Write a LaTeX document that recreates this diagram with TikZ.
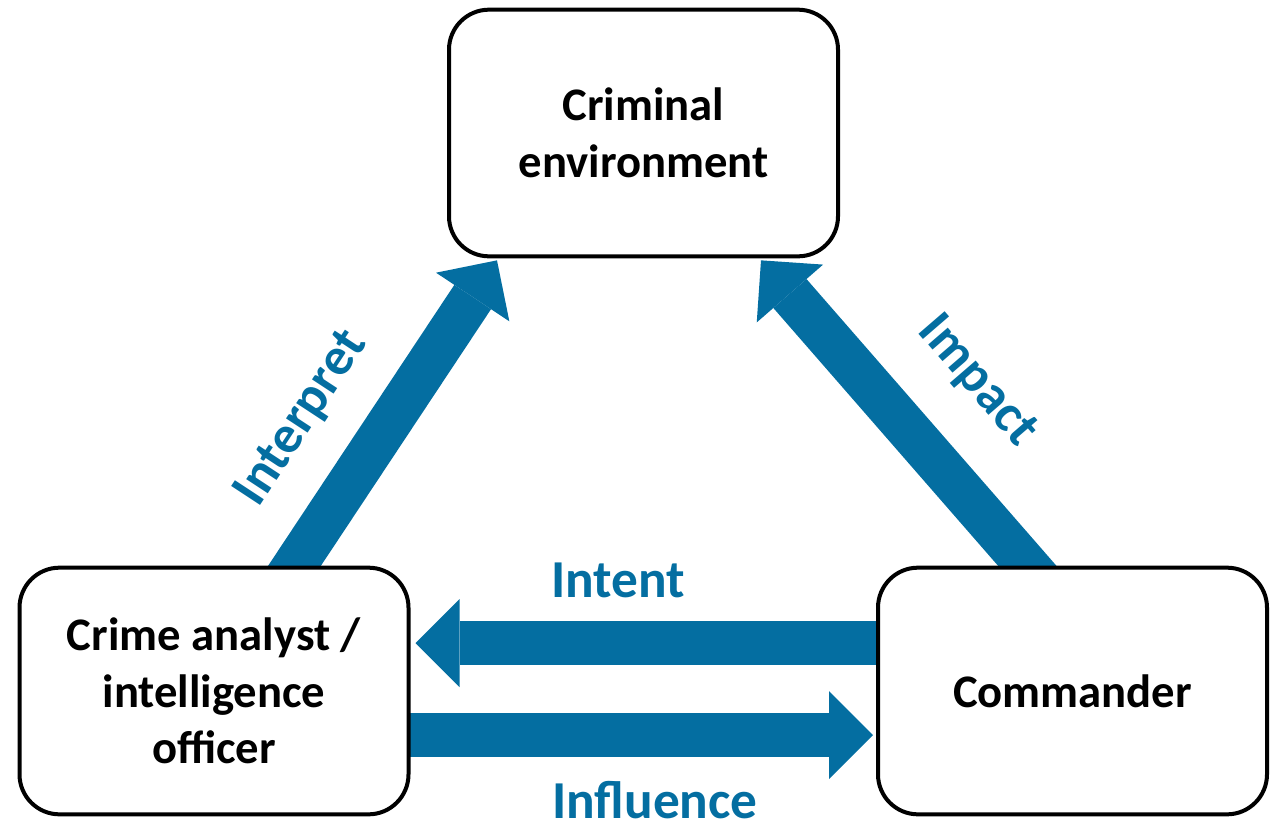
\documentclass[tikz,border=0pt]{standalone}
\usepackage{fontspec}
\setmainfont{Carlito}
\usetikzlibrary{arrows.meta,backgrounds,calc}
\definecolor{arrowblue}{RGB}{4,110,161}
\begin{document}
\begin{tikzpicture}[x=0.75pt,y=-0.75pt,
  box/.style={draw=black,line width=3pt,rounded corners=30pt,fill=white,
    minimum width=291.75pt,minimum height=185pt,align=center,
    font=\bfseries\fontsize{35}{42.5}\selectfont,inner sep=0pt},
  bigarrow/.style={draw=arrowblue,line width=33pt,
    -{Triangle[length=33pt,width=66pt,line width=0pt]}},
  lbl/.style={text=arrowblue,font=\bfseries\fontsize{40}{48}\selectfont,
    inner sep=0pt,anchor=base}]
\useasboundingbox (0,0) rectangle (1279,822);

\node[box] (crim) at (643.5,133) {Criminal\\environment};
\node[box] (ana) at (214,691) {Crime analyst /\\intelligence\\officer};
\node[box] (cmd) at (1072.5,691) {Commander};

\begin{scope}[on background layer]
\coordinate (s1) at ($(ana.north)+(58.7,33)$);
\coordinate (t1) at ($(crim.south)+(-146.5,2)$);
\draw[bigarrow] (s1) -- (t1);
\coordinate (s2) at ($(cmd.north)+(-16.6,33)$);
\coordinate (t2) at ($(crim.south)+(117.5,2)$);
\draw[bigarrow] (s2) -- (t2);
\coordinate (s3) at ($(cmd.west)+(2,-48)$);
\coordinate (t3) at ($(ana.east)+(5,-48)$);
\draw[bigarrow] (s3) -- (t3);
\coordinate (s4) at ($(ana.east)+(-2,44)$);
\coordinate (t4) at ($(cmd.west)+(-3,44)$);
\draw[bigarrow] (s4) -- (t4);
\end{scope}

\node[lbl] (lint) at (618,597) {Intent};
\node[lbl] (linf) at (655,818) {Influence};
\node[lbl,rotate=56.7] (lintp) at (313,426) {Interpret};
\node[lbl,rotate=-49.2] (limp) at (967,390) {Impact};
\end{tikzpicture}
\end{document}
